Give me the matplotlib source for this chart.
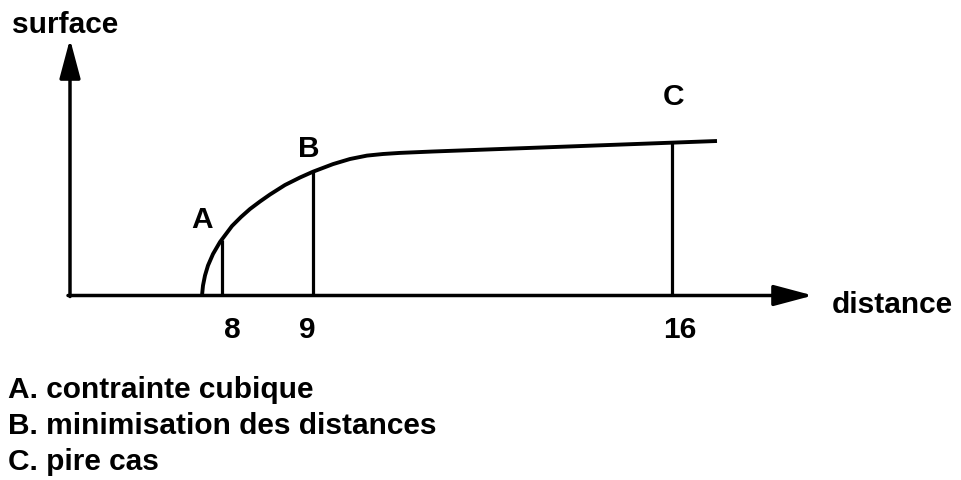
import numpy as np
import matplotlib
matplotlib.use("Agg")
import matplotlib.pyplot as plt

# schematic curve (arbitrary units, origin at the axes corner)
curve_x = [132, 133, 135, 138, 143, 150, 162, 171, 180, 190, 200, 215, 230, 243,
           263, 280, 297, 313, 330, 363, 647]
curve_y = [0, 10, 20, 30, 41.5, 53.5, 69.5, 78.5, 86.5, 94, 101, 110.5, 118,
           123.8, 131.4, 136.5, 139.9, 141.5, 142.6, 144, 154.5]

points = ["A", "B", "C"]
points_x = [151.5, 242.5, 602]
tick_labels = ["8", "9", "16"]

legend_lines = ["A. contrainte cubique",
                "B. minimisation des distances",
                "C. pire cas"]

plt.rcParams['font.family'] = ['Liberation Sans', 'DejaVu Sans']
fs = 21.5

fig = plt.figure(figsize=(9.61, 4.81), dpi=100)
ax = fig.add_axes([0, 0, 1, 1])
ax.set_xlim(-70, 891)
ax.set_ylim(-184.5, 296.5)
ax.axis('off')

arrow = dict(arrowstyle='-|>,head_length=1.2,head_width=0.32', mutation_scale=20,
             lw=2.5, color='black', shrinkA=0, shrinkB=0)
ax.annotate('', xy=(743, 0), xytext=(-2, 0), arrowprops=arrow)
ax.annotate('', xy=(0, 256.5), xytext=(0, -1), arrowprops=arrow)

ax.plot(curve_x, curve_y, color='black', lw=2.8, solid_capstyle='butt',
        solid_joinstyle='round')

tops = np.interp(points_x, curve_x, curve_y)
ax.vlines(points_x, 0, tops, color='black', lw=2.3)

# label offsets as drawn in the original sketch
lab_dx = [-19.5, -3.5, 1]
lab_dy = [21.5, 24, 47]
tick_dx = [10.5, -5.5, 8]
for i, p in enumerate(points):
    ax.text(points_x[i] + lab_dx[i], tops[i] + lab_dy[i], p, fontsize=fs,
            fontweight='bold', ha='center', va='center')
    ax.text(points_x[i] + tick_dx[i], -42, tick_labels[i], fontsize=fs,
            fontweight='bold', ha='center', va='baseline')

ax.text(-58, 263.5, "surface", fontsize=fs, fontweight='bold', va='baseline')
ax.text(762, -16.8, "distance", fontsize=fs, fontweight='bold', va='baseline')

for i, line in enumerate(legend_lines):
    ax.text(-62, -101.5 - 36 * i, line, fontsize=fs, fontweight='bold', va='baseline')

fig.savefig("out.png", dpi=100)
